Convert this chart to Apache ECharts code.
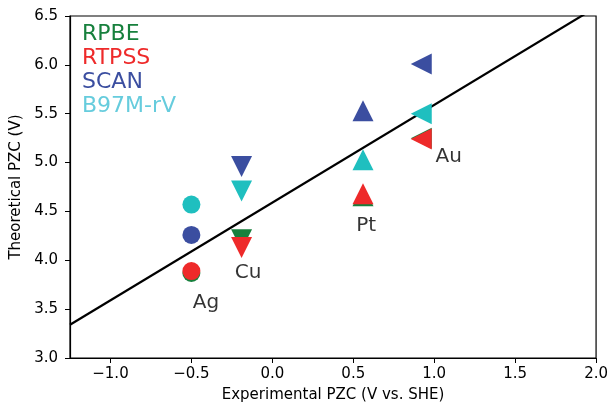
<!DOCTYPE html>
<html>
<head>
<meta charset="utf-8">
<script src="https://cdn.jsdelivr.net/npm/echarts@6/dist/echarts.min.js"></script>
<style>
  html, body { margin: 0; padding: 0; background: #fff; }
  #main { width: 611px; height: 408px; }
</style>
</head>
<body>
<div id="main"></div>
<script>
// metals and their experimental PZC (x)
const metals = ['Ag', 'Cu', 'Pt', 'Au']
const expPzc = [-0.5, -0.19, 0.56, 0.92]
const metalSymbols = ['circle', 'triangle', 'triangle', 'triangle']
const metalRotate = [0, 180, 0, 90]

// theoretical PZC per functional, same order as metals
const methods = ['RPBE', 'RTPSS', 'SCAN', 'B97M-rV']
const rpbe = [3.87, 4.21, 4.66, 5.25]
const rtpss = [3.89, 4.13, 4.68, 5.24]
const scan = [4.26, 4.96, 5.53, 6.01]
const b97 = [4.57, 4.71, 5.03, 5.5]
const methodValues = [rpbe, rtpss, scan, b97]
const markerColors = ['#17803d', '#ee2a2a', '#3b4ea0', '#1fbfbf']
const legendColors = ['#17803d', '#ee2a2a', '#3b4ea0', '#66ccdd']

// fit line endpoints (y = x + 4.59)
const fitX = [-1.25, 2.0]
const fitY = [3.34, 6.59]

// metal name labels
const labelX = [-0.41, -0.15, 0.58, 1.09]
const labelY = [3.57, 3.87, 4.35, 5.06]

const xTicks = [-1, -0.5, 0, 0.5, 1, 1.5, 2]

const font = 'DejaVu Sans'

const myChart = echarts.init(document.getElementById('main'))

const series = [{
  type: 'line',
  data: fitX.map((x, i) => [x, fitY[i]]),
  symbol: 'none',
  lineStyle: { color: '#000', width: 2.2 },
  silent: true,
  z: 1
}]

methods.forEach((m, k) => {
  series.push({
    name: m,
    type: 'scatter',
    z: 2 + k,
    itemStyle: { color: markerColors[k], opacity: 1 },
    data: metals.map((metal, i) => ({
      value: [expPzc[i], methodValues[k][i]],
      symbol: metalSymbols[i],
      symbolRotate: metalRotate[i],
      symbolSize: metalSymbols[i] === 'circle' ? 18 : 21
    }))
  })
})

series.push({
  type: 'scatter',
  symbolSize: 0,
  silent: true,
  data: metals.map((metal, i) => ({ value: [labelX[i], labelY[i]], name: metal })),
  label: {
    show: true,
    position: 'inside',
    formatter: p => p.name,
    color: '#000',
    fontFamily: font,
    fontSize: 20
  }
})

const option = {
  animation: false,
  backgroundColor: '#fff',
  grid: {
    left: 70,
    right: 14,
    top: 16,
    bottom: 49,
    show: true,
    borderColor: '#000',
    borderWidth: 1.2
  },
  legend: {
    left: 72,
    top: 17,
    orient: 'vertical',
    itemGap: 0,
    itemWidth: 0,
    itemHeight: 0,
    selectedMode: false,
    textStyle: { fontFamily: font, fontSize: 22, lineHeight: 24 },
    data: methods.map((m, i) => ({ name: m, icon: 'none', textStyle: { color: legendColors[i] } }))
  },
  xAxis: {
    type: 'value',
    min: -1.25,
    max: 2.0,
    name: 'Experimental PZC (V vs. SHE)',
    nameLocation: 'middle',
    nameGap: 30,
    nameTextStyle: { fontFamily: font, fontSize: 15, color: '#000' },
    axisLine: { onZero: false, lineStyle: { color: '#000', width: 1.2 } },
    axisTick: { show: true, length: 5, customValues: xTicks, lineStyle: { color: '#000' } },
    axisLabel: {
      customValues: xTicks,
      margin: 9,
      fontFamily: font,
      fontSize: 15,
      color: '#000',
      formatter: v => (v < 0 ? '\u2212' : '') + Math.abs(v).toFixed(1)
    },
    splitLine: { show: false }
  },
  yAxis: {
    type: 'value',
    min: 3.0,
    max: 6.5,
    interval: 0.5,
    name: 'Theoretical PZC (V)',
    nameLocation: 'middle',
    nameGap: 41,
    nameTextStyle: { fontFamily: font, fontSize: 15, color: '#000' },
    axisLine: { onZero: false, lineStyle: { color: '#000', width: 1.2 } },
    axisTick: { show: true, length: 5, lineStyle: { color: '#000' } },
    axisLabel: {
      margin: 12,
      fontFamily: font,
      fontSize: 15,
      color: '#000',
      formatter: v => v.toFixed(1)
    },
    splitLine: { show: false }
  },
  series: series
}

myChart.setOption(option)
</script>
</body>
</html>
